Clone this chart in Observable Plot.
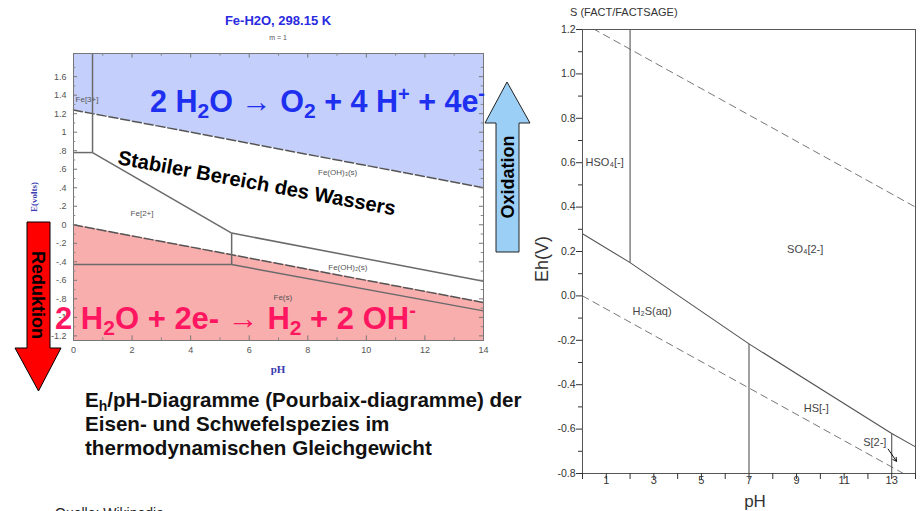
<!DOCTYPE html>
<html>
<head>
<meta charset="utf-8">
<script src="https://cdn.jsdelivr.net/npm/d3@7"></script>
<script src="https://cdn.jsdelivr.net/npm/@observablehq/plot@0.6"></script>
<style>
  html, body { margin: 0; padding: 0; background: #fff; }
  #page { position: relative; width: 921px; height: 511px; overflow: hidden; background: #fff; font-family: "Liberation Sans", Arial, sans-serif; }
  #fe, #s { position: absolute; top: 0; }
  #fe { left: 0; }
  #s { left: 540px; }
  #overlay { position: absolute; left: 0; top: 0; }
</style>
</head>
<body>
<div id="page">
  <div id="fe"></div>
  <div id="s"></div>
  <svg id="overlay" width="921" height="511" xmlns="http://www.w3.org/2000/svg"></svg>
</div>
<script>
// ---------- Fe-H2O diagram data ----------
const waterPH = [0, 14];
const feO2E = [1.24, 0.40];
const feH2E = [0.0, -0.84];
const feSegX1 = [0, 0.65, 0.65, 5.4, 0, 5.4, 5.4];
const feSegY1 = [0.78, 0.78, 0.78, -0.09, -0.43, -0.09, -0.43];
const feSegX2 = [0.65, 0.65, 5.4, 5.4, 5.4, 14, 14];
const feSegY2 = [0.78, 1.85, -0.09, -0.43, -0.43, -0.61, -0.93];
const feLabels = ["Fe[3+]", "Fe(OH)\u2083(s)", "Fe[2+]", "Fe(OH)\u2082(s)", "Fe(s)"];
const feLabelPH = [0.07, 8.35, 1.95, 8.7, 6.83];
const feLabelE = [1.35, 0.565, 0.12, -0.46, -0.79];
const feYTicks = [-1.2, -1, -0.8, -0.6, -0.4, -0.2, 0, 0.2, 0.4, 0.6, 0.8, 1, 1.2, 1.4, 1.6];
const feYTickLabels = ["-1.2", "-1", "-.8", "-.6", "-.4", "-.2", "0", ".2", ".4", ".6", ".8", "1", "1.2", "1.4", "1.6"];
const feYMinor = [-1.1, -0.9, -0.7, -0.5, -0.3, -0.1, 0.1, 0.3, 0.5, 0.7, 0.9, 1.1, 1.3, 1.5, 1.7];
const feXTicks = [0, 2, 4, 6, 8, 10, 12, 14];
const feXMinor = [1, 3, 5, 7, 9, 11, 13];

// ---------- S diagram data ----------
const sO2E = [1.23, 0.40];
const sH2E = [0.0, -0.83];
const sBoundaryPH = [0, 2, 7, 13, 14];
const sBoundaryE = [0.28, 0.15, -0.216, -0.62, -0.68];
const sVertPH = [2, 7, 13];
const sVertTop = [1.2, -0.216, -0.62];
const sVertBottom = [0.15, -0.8, -0.8];
const sLabels = ["HSO\u2084[-]", "SO\u2084[2-]", "H\u2082S(aq)", "HS[-]", "S[2-]"];
const sLabelPH = [0.13, 8.6, 2.1, 9.3, 11.8];
const sLabelE = [0.6, 0.21, -0.07, -0.505, -0.66];
const sArrowPH = [12.85, 13.2];
const sArrowE = [-0.69, -0.745];
const sYTicks = [-0.8, -0.6, -0.4, -0.2, 0, 0.2, 0.4, 0.6, 0.8, 1.0, 1.2];
const sYTickLabels = ["-0.8", "-0.6", "-0.4", "-0.2", "0.0", "0.2", "0.4", "0.6", "0.8", "1.0", "1.2"];
const sYMinor = [-0.7, -0.5, -0.3, -0.1, 0.1, 0.3, 0.5, 0.7, 0.9, 1.1];
const sXTicks = [0, 1, 2, 3, 4, 5, 6, 7, 8, 9, 10, 11, 12, 13, 14];
const sXLabels = [1, 3, 5, 7, 9, 11, 13];

const font = "'Liberation Sans', Arial, sans-serif";

// ---------- Left: Fe-H2O ----------
const feO2 = waterPH.map((p, i) => ({pH: p, E: feO2E[i]}));
const feH2 = waterPH.map((p, i) => ({pH: p, E: feH2E[i]}));
const feSegs = feSegX1.map((x, i) => ({x1: x, y1: feSegY1[i], x2: feSegX2[i], y2: feSegY2[i]}));
const feText = feLabels.map((t, i) => ({t, pH: feLabelPH[i], E: feLabelE[i]}));
const yTop = 1.85, yBot = -1.25;

const fe = Plot.plot({
  width: 500, height: 380,
  marginLeft: 73, marginRight: 17, marginTop: 53, marginBottom: 40,
  x: {domain: [0, 14]},
  y: {domain: [yBot, yTop]},
  style: {background: "transparent", fontFamily: font, color: "#555"},
  marks: [
    Plot.areaY(feO2, {x: "pH", y1: "E", y2: yTop, fill: "#c4d0fb"}),
    Plot.areaY(feH2, {x: "pH", y1: yBot, y2: "E", fill: "#f9aeae"}),
    Plot.line(feO2, {x: "pH", y: "E", stroke: "#555", strokeWidth: 1.5, strokeDasharray: "9,3"}),
    Plot.line(feH2, {x: "pH", y: "E", stroke: "#555", strokeWidth: 1.5, strokeDasharray: "9,3"}),
    Plot.link(feSegs, {x1: "x1", y1: "y1", x2: "x2", y2: "y2", stroke: "#6a6a6a", strokeWidth: 1.5}),
    Plot.text(feText, {x: "pH", y: "E", text: "t", textAnchor: "start", fontSize: 8, fill: "#555"}),
    Plot.frame({stroke: "#777"}),
    Plot.ruleY(feYTicks, {x1: 0, x2: 0.14, stroke: "#777"}),
    Plot.ruleY(feYTicks, {x1: 13.86, x2: 14, stroke: "#777"}),
    Plot.ruleY(feYMinor, {x1: 0, x2: 0.08, stroke: "#888"}),
    Plot.ruleY(feYMinor, {x1: 13.92, x2: 14, stroke: "#888"}),
    Plot.ruleX(feXTicks, {y1: yBot, y2: yBot + 0.05, stroke: "#777"}),
    Plot.ruleX(feXTicks, {y1: yTop - 0.05, y2: yTop, stroke: "#777"}),
    Plot.ruleX(feXMinor, {y1: yBot, y2: yBot + 0.03, stroke: "#888"}),
    Plot.ruleX(feXMinor, {y1: yTop - 0.03, y2: yTop, stroke: "#888"}),
    Plot.axisY({ticks: feYTicks, tickSize: 0, tickPadding: 7, fontSize: 9, label: null,
      tickFormat: d => feYTickLabels[feYTicks.indexOf(d)]}),
    Plot.axisX({ticks: feXTicks, tickSize: 0, tickPadding: 6, fontSize: 9, label: null,
      tickFormat: d => String(d)})
  ]
});
document.getElementById("fe").appendChild(fe);

// ---------- Right: S diagram ----------
const sO2 = waterPH.map((p, i) => ({pH: p, E: sO2E[i]}));
const sH2 = waterPH.map((p, i) => ({pH: p, E: sH2E[i]}));
const sB = sBoundaryPH.map((p, i) => ({pH: p, E: sBoundaryE[i]}));
const sV = sVertPH.map((p, i) => ({pH: p, top: sVertTop[i], bot: sVertBottom[i]}));
const sT = sLabels.map((t, i) => ({t, pH: sLabelPH[i], E: sLabelE[i]}));

const s = Plot.plot({
  width: 381, height: 511,
  marginLeft: 42, marginRight: 6, marginTop: 29, marginBottom: 38,
  x: {domain: [0, 14]},
  y: {domain: [-0.8, 1.2]},
  style: {background: "transparent", fontFamily: font, color: "#333"},
  marks: [
    Plot.line(sO2, {x: "pH", y: "E", stroke: "#777", strokeWidth: 1, strokeDasharray: "7,5", clip: true}),
    Plot.line(sH2, {x: "pH", y: "E", stroke: "#777", strokeWidth: 1, strokeDasharray: "7,5", clip: true}),
    Plot.line(sB, {x: "pH", y: "E", stroke: "#555", strokeWidth: 1.1}),
    Plot.link(sV, {x1: "pH", x2: "pH", y1: "top", y2: "bot", stroke: "#555", strokeWidth: 1.1}),
    Plot.text(sT, {x: "pH", y: "E", text: "t", textAnchor: "start", fontSize: 11, fill: "#444"}),
    Plot.arrow([0], {x1: sArrowPH[0], y1: sArrowE[0], x2: sArrowPH[1], y2: sArrowE[1], stroke: "#111", strokeWidth: 1, headLength: 6}),
    Plot.frame({stroke: "#555"}),
    Plot.axisY({ticks: sYTicks, tickSize: 6, tickPadding: 1, fontSize: 10.5, label: null,
      tickFormat: d => sYTickLabels[sYTicks.indexOf(d)]}),
    Plot.axisY({ticks: sYMinor, tickSize: 4, label: null, tickFormat: () => ""}),
    Plot.axisX({ticks: sXTicks, tickSize: 6, label: null, tickFormat: () => ""}),
    Plot.axisX({ticks: sXLabels, tickSize: 0, tickPadding: 3, fontSize: 11, label: null, tickFormat: d => String(d)})
  ]
});
document.getElementById("s").appendChild(s);

// ---------- Overlay texts and arrows ----------
const ov = document.getElementById("overlay");
ov.innerHTML = `
  <g font-family="${font}">
    <text x="278" y="25" text-anchor="middle" font-size="13" font-weight="bold" fill="#2a2ae0">Fe-H2O, 298.15 K</text>
    <text x="278" y="40" text-anchor="middle" font-size="7" fill="#555">m = 1</text>
    <text transform="translate(37,197) rotate(-90)" text-anchor="middle" font-family="'Liberation Serif', serif" font-size="9" font-weight="bold" fill="#3a3ab0">E(volts)</text>
    <text x="278" y="373" text-anchor="middle" font-family="'Liberation Serif', serif" font-size="11" font-weight="bold" fill="#3a3ab0">pH</text>

    <text x="570" y="16" font-size="11" fill="#333">S (FACT/FACTSAGE)</text>
    <text transform="translate(548,259) rotate(-90)" text-anchor="middle" font-size="18" fill="#333">Eh(V)</text>
    <text x="755" y="507" text-anchor="middle" font-size="17" fill="#333">pH</text>

    <text transform="translate(117,164) rotate(10.5)" font-size="20.2" font-weight="bold" fill="#000">Stabiler Bereich des Wassers</text>

    <text x="150" y="112" font-size="30.5" font-weight="bold" fill="#1f2ff0">2 H<tspan font-size="21" dy="6">2</tspan><tspan dy="-6">O \u2192 O</tspan><tspan font-size="21" dy="6">2</tspan><tspan dy="-6"> + 4 H</tspan><tspan font-size="20" dy="-11">+</tspan><tspan dy="11"> + 4e</tspan><tspan font-size="20" dy="-12">-</tspan></text>

    <text x="55" y="329" font-size="31" font-weight="bold" fill="#ff1660">2 H<tspan font-size="21" dy="6">2</tspan><tspan dy="-6">O + 2e- \u2192 H</tspan><tspan font-size="21" dy="6">2</tspan><tspan dy="-6"> + 2 OH</tspan><tspan font-size="20" dy="-12">-</tspan></text>

    <polygon points="27,222 50,222 50,348 61,348 38.5,391 15,348 27,348" fill="#ff0000" stroke="#000" stroke-width="1"/>
    <text transform="translate(32,295) rotate(90)" text-anchor="middle" font-size="18" font-weight="bold" fill="#000">Reduktion</text>

    <polygon points="507,82 530,123 519,123 519,252 496,252 496,123 485,123" fill="#9ccff5" stroke="#222" stroke-width="1"/>
    <text transform="translate(514,177) rotate(-90)" text-anchor="middle" font-size="18" font-weight="bold" fill="#000">Oxidation</text>

    <g font-size="20.6" font-weight="bold" fill="#111">
      <text x="85" y="407">E<tspan font-size="14" dy="4">h</tspan><tspan dy="-4">/pH-Diagramme (Pourbaix-diagramme) der</tspan></text>
      <text x="85" y="431">Eisen- und Schwefelspezies im</text>
      <text x="85" y="455">thermodynamischen Gleichgewicht</text>
    </g>
    <text x="55" y="518" font-size="14" fill="#222">Quelle: Wikipedia</text>
  </g>`;
</script>
</body>
</html>
